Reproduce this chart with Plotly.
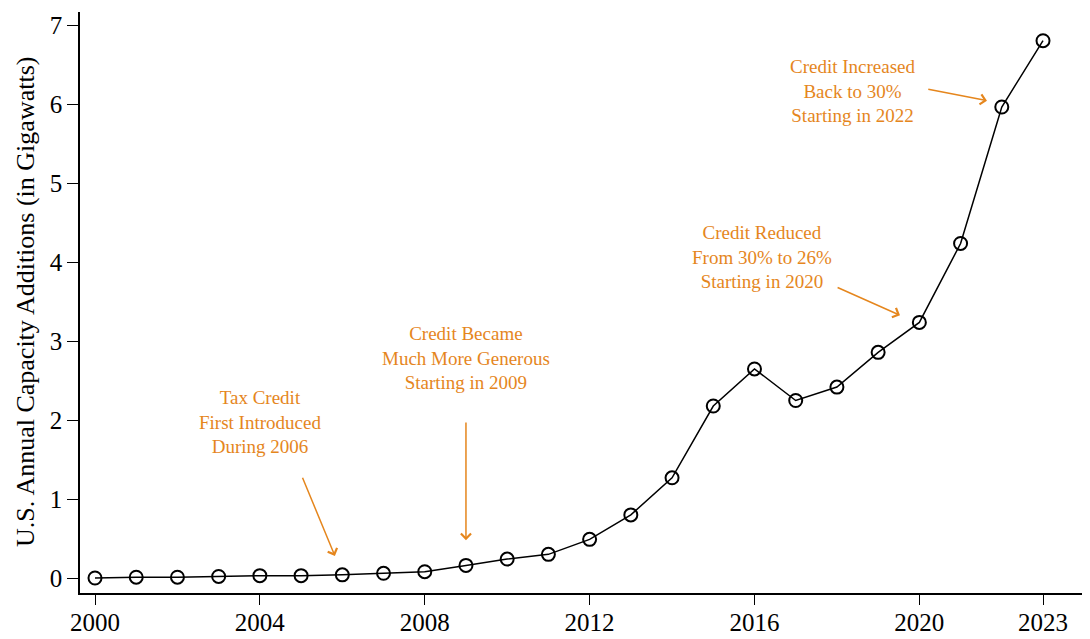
import plotly.graph_objects as go

years = list(range(2000, 2024))
capacity = [0.00, 0.01, 0.01, 0.02, 0.03, 0.03, 0.04, 0.06, 0.08, 0.16, 0.24, 0.30,
            0.49, 0.80, 1.27, 2.18, 2.65, 2.25, 2.42, 2.86, 3.24, 4.24, 5.97, 6.81]
x_ticks = [2000, 2004, 2008, 2012, 2016, 2020, 2023]
y_ticks = [0, 1, 2, 3, 4, 5, 6, 7]
y_title = "U.S. Annual Capacity Additions (in Gigawatts)"

notes = [
    "Tax Credit<br>First Introduced<br>During 2006",
    "Credit Became<br>Much More Generous<br>Starting in 2009",
    "Credit Reduced<br>From 30% to 26%<br>Starting in 2020",
    "Credit Increased<br>Back to 30%<br>Starting in 2022",
]
note_x = [2004.0, 2009.0, 2016.18, 2018.39]
note_y = [1.98, 2.79, 4.07, 6.17]
arrow_tail_x = [2005.02, 2009.0, 2017.98, 2020.18]
arrow_tail_y = [1.29, 1.99, 3.69, 6.20]
arrow_head_x = [2005.82, 2009.0, 2019.53, 2021.64]
arrow_head_y = [0.28, 0.48, 3.33, 6.05]

ORANGE = "#E5861D"
FONT = "Liberation Serif, Times New Roman, serif"

fig = go.Figure()
fig.add_trace(go.Scatter(
    x=years, y=capacity, mode="lines+markers",
    line=dict(color="black", width=1.5),
    marker=dict(symbol="circle-open", size=13, color="black", line=dict(width=2, color="black")),
    showlegend=False,
))

for t, tx, ty in zip(notes, note_x, note_y):
    fig.add_annotation(x=tx, y=ty, text=t, showarrow=False,
                       font=dict(family=FONT, size=19, color=ORANGE), align="center")
for hx, hy, tx, ty in zip(arrow_head_x, arrow_head_y, arrow_tail_x, arrow_tail_y):
    fig.add_annotation(x=hx, y=hy, ax=tx, ay=ty, axref="x", ayref="y", xref="x", yref="y",
                       text="", showarrow=True, arrowhead=4, arrowsize=1.3, arrowwidth=1.5,
                       arrowcolor=ORANGE)

fig.add_annotation(text=y_title, xref="paper", yref="paper", x=0, y=0.501,
                   xanchor="center", yanchor="middle", xshift=-54, textangle=-90,
                   showarrow=False, font=dict(family=FONT, size=26, color="black"))

fig.update_layout(
    width=1082, height=631,
    margin=dict(l=72, r=0, t=4, b=46),
    paper_bgcolor="white", plot_bgcolor="white",
    font=dict(family=FONT, size=25, color="black"),
    xaxis=dict(range=[1999.636, 2024.14], tickvals=x_ticks, ticks="outside", ticklen=10,
               tickwidth=1.2, tickcolor="black", showline=True, linecolor="black", linewidth=1.5,
               showgrid=False, zeroline=False, tickfont=dict(size=25), automargin=False,
               ticklabelstandoff=-4),
    yaxis=dict(range=[-0.19, 7.174], tickvals=y_ticks, ticks="outside", ticklen=11,
               tickwidth=1.2, tickcolor="black", showline=True, linecolor="black", linewidth=1.5,
               showgrid=False, zeroline=False, tickfont=dict(size=25), automargin=False),
)

fig.write_html("out.html")
